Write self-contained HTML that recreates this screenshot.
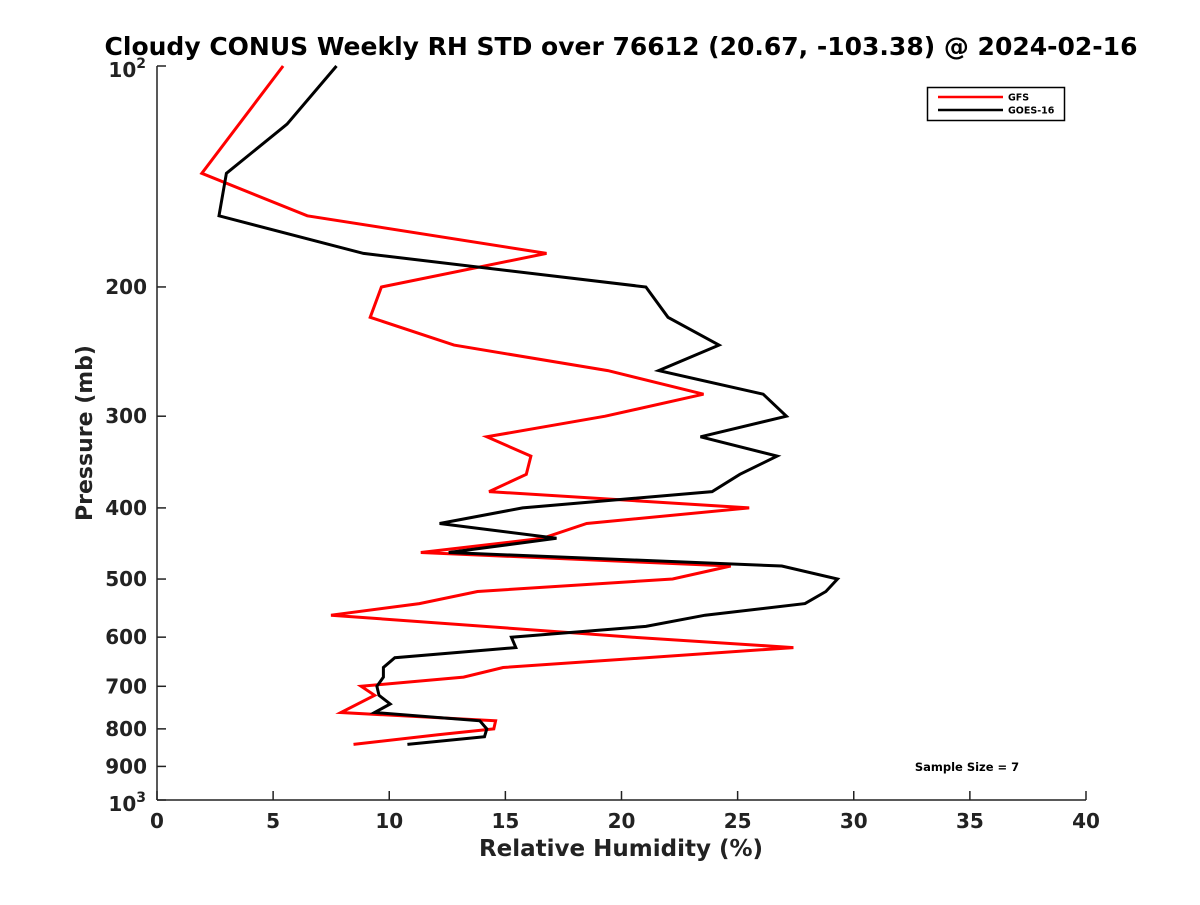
<!DOCTYPE html>
<html><head><meta charset="utf-8"><style>
html,body{margin:0;padding:0;background:#fff;}
svg text{font-family:"DejaVu Sans","Liberation Sans",sans-serif;font-weight:bold;fill:#222;}
</style></head><body>
<svg id="chart" width="1200" height="900" viewBox="0 0 1200 900">
<rect width="1200" height="900" fill="#fff"/>
<text x="621" y="55" text-anchor="middle" font-size="25" style="fill:#000">Cloudy CONUS Weekly RH STD over 76612 (20.67, -103.38) @ 2024-02-16</text>
<g id="axes"></g>
<g id="series"></g>
<text x="621" y="856" text-anchor="middle" font-size="23">Relative Humidity (%)</text>
<text transform="translate(92,433) rotate(-90)" text-anchor="middle" font-size="22">Pressure (mb)</text>
<text x="967" y="771" text-anchor="middle" font-size="11.5" style="fill:#000">Sample Size = 7</text>
<g>
<rect x="927.5" y="87.5" width="137" height="33" fill="#fff" stroke="#000" stroke-width="1.5"/>
<line x1="938" y1="97" x2="1003" y2="97" stroke="#f00" stroke-width="2.5"/>
<text x="1008" y="100.5" font-size="9.5" style="fill:#000">GFS</text>
<line x1="938" y1="110" x2="1003" y2="110" stroke="#000" stroke-width="2.5"/>
<text x="1008" y="113.5" font-size="9.5" style="fill:#000">GOES-16</text>
</g>
</svg>
<script>
const gfsPressure = [100,140,160,180,200,220,240,260,280,300,320,340,360,380,400,420,440,460,480,500,520,540,560,600,620,660,680,700,720,760,780,800,815,840];
const gfsValues   = [5.43,1.93,6.47,16.77,9.66,9.18,12.79,19.41,23.53,19.3,14.2,16.1,15.9,14.3,25.5,18.5,16.6,11.36,24.7,22.2,13.8,11.3,7.49,20.5,27.4,14.9,13.2,8.79,9.37,7.92,14.58,14.5,12.1,8.46];
const goesPressure = [100,120,140,160,180,200,220,240,260,280,300,320,340,360,380,400,420,440,460,480,500,520,540,560,580,600,620,640,660,680,700,720,740,760,780,800,820,840];
const goesValues   = [7.73,5.60,2.99,2.67,8.89,21.05,22.0,24.2,21.6,26.1,27.1,23.4,26.7,25.1,23.9,15.74,12.17,17.2,12.56,26.9,29.3,28.8,27.9,23.6,21.05,15.26,15.45,10.24,9.75,9.75,9.47,9.56,10.04,9.37,13.9,14.2,14.1,10.78];
const xTicks = [0,5,10,15,20,25,30,35,40];
const yTicks = [200,300,400,500,600,700,800,900];

const X0=157,X1=1086,Y0=66,Y1=800;
function xs(v){return X0+(v-0)/(40-0)*(X1-X0);}
function ys(p){return Y0+Math.log10(p/100)*(Y1-Y0);}
const NS="http://www.w3.org/2000/svg";
const axes=document.getElementById('axes'), series=document.getElementById('series');
function mk(tag,attrs,parent){const e=document.createElementNS(NS,tag);for(const k in attrs)e.setAttribute(k,attrs[k]);parent.appendChild(e);return e;}

const yAxis=mk('line',{x1:X0,y1:Y0,x2:X0,y2:Y1,stroke:'#222','stroke-width':1.5},axes);


const xAxis=mk('line',{x1:X0,y1:Y1,x2:X1,y2:Y1,stroke:'#222','stroke-width':1.5},axes);



xTicks.forEach(v=>{
  const x=xs(v);
  const t=mk('line',{x1:x,y1:Y1,x2:x,y2:Y1-9,stroke:'#222','stroke-width':1.5},axes);
  
  
  const l=mk('text',{x:x,y:828,'text-anchor':'middle','font-size':20},axes);
  l.textContent=v;
  
  
});
[100].concat(yTicks,[1000]).forEach(p=>{
  const y=ys(p);
  const t=mk('line',{x1:X0,y1:y,x2:X0+9,y2:y,stroke:'#222','stroke-width':1.5},axes);
  
  
});
yTicks.forEach(p=>{
  const l=mk('text',{x:147,y:ys(p)+7,'text-anchor':'end','font-size':20},axes);
  l.textContent=p;
  
  
});
[[100,'2'],[1000,'3']].forEach(([p,e])=>{
  const l=mk('text',{x:146,y:ys(p)+11,'text-anchor':'end','font-size':20},axes);
  l.innerHTML='10<tspan dy="-9" font-size="14">'+e+'</tspan>';
  
  
});

function draw(ps,vs,color,name){
  const pts=ps.map((p,i)=>xs(vs[i]).toFixed(1)+','+ys(p).toFixed(1)).join(' ');
  const pl=mk('polyline',{points:pts,fill:'none',stroke:color,'stroke-width':3,'stroke-linejoin':'miter'},series);
  
  
}
draw(gfsPressure,gfsValues,'#f00','gfs-line');
draw(goesPressure,goesValues,'#000','goes16-line');
</script>
</body></html>
